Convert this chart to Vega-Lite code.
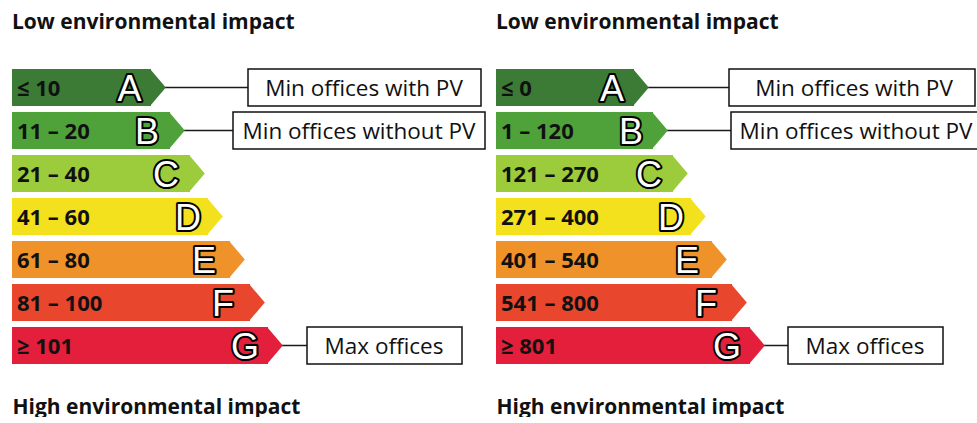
{
  "$schema": "https://vega.github.io/schema/vega-lite/v6.json",
  "background": "white",
  "padding": {"left": 12, "top": 12, "right": 0, "bottom": 0},
  "config": {"view": {"stroke": null}, "font": "Open Sans", "concat": {"spacing": 10}},
  "datasets": {
    "labels": [
      {"panel": "left", "rating": "A", "range": "≤ 10", "len": 139, "letter": 117.5, "callout": "Min offices with PV", "boxStart": 236, "boxEnd": 469, "boxMid": 352},
      {"panel": "left", "rating": "B", "range": "11 – 20", "len": 158, "letter": 135, "callout": "Min offices without PV", "boxStart": 221, "boxEnd": 473, "boxMid": 347},
      {"panel": "left", "rating": "C", "range": "21 – 40", "len": 178, "letter": 154, "callout": null, "boxStart": null, "boxEnd": null, "boxMid": null},
      {"panel": "left", "rating": "D", "range": "41 – 60", "len": 196, "letter": 176, "callout": null, "boxStart": null, "boxEnd": null, "boxMid": null},
      {"panel": "left", "rating": "E", "range": "61 – 80", "len": 218, "letter": 192, "callout": null, "boxStart": null, "boxEnd": null, "boxMid": null},
      {"panel": "left", "rating": "F", "range": "81 – 100", "len": 238, "letter": 211, "callout": null, "boxStart": null, "boxEnd": null, "boxMid": null},
      {"panel": "left", "rating": "G", "range": "≥ 101", "len": 256, "letter": 233, "callout": "Max offices", "boxStart": 295, "boxEnd": 450, "boxMid": 372},
      {"panel": "right", "rating": "A", "range": "≤ 0", "len": 138, "letter": 116, "callout": "Min offices with PV", "boxStart": 233, "boxEnd": 479, "boxMid": 358},
      {"panel": "right", "rating": "B", "range": "1 – 120", "len": 157, "letter": 135, "callout": "Min offices without PV", "boxStart": 235, "boxEnd": 485, "boxMid": 360},
      {"panel": "right", "rating": "C", "range": "121 – 270", "len": 177, "letter": 153, "callout": null, "boxStart": null, "boxEnd": null, "boxMid": null},
      {"panel": "right", "rating": "D", "range": "271 – 400", "len": 195, "letter": 175, "callout": null, "boxStart": null, "boxEnd": null, "boxMid": null},
      {"panel": "right", "rating": "E", "range": "401 – 540", "len": 216, "letter": 191, "callout": null, "boxStart": null, "boxEnd": null, "boxMid": null},
      {"panel": "right", "rating": "F", "range": "541 – 800", "len": 236, "letter": 210, "callout": null, "boxStart": null, "boxEnd": null, "boxMid": null},
      {"panel": "right", "rating": "G", "range": "≥ 801", "len": 254, "letter": 231, "callout": "Max offices", "boxStart": 292, "boxEnd": 447, "boxMid": 369}
    ]
  },
  "hconcat": [
    {
      "width": 474, "height": 301,
      "data": {"name": "labels"},
      "transform": [{"filter": "datum.panel === 'left'"}],
      "title": {"text": "Low environmental impact", "anchor": "start", "fontSize": 21, "fontWeight": "bold", "font": "Open Sans", "color": "#111111", "baseline": "alphabetic", "offset": 16},
      "encoding": {"y": {"field": "rating", "type": "nominal", "scale": {"domain": ["A","B","C","D","E","F","G"], "paddingInner": 0.14, "paddingOuter": 0.07}, "axis": null}},
      "layer": [
        {"transform": [{"filter": "datum.callout != null"}],
         "mark": {"type": "rule", "strokeWidth": 1.5, "color": "#1a1a1a"},
         "encoding": {"x": {"field": "len", "type": "quantitative", "title": "High environmental impact", "scale": {"domain": [0, 474], "nice": false, "zero": true},
            "axis": {"grid": false, "domain": false, "ticks": false, "labels": false, "titleAnchor": "start", "titleAlign": "left", "titleFont": "Open Sans", "titleFontSize": 21, "titleFontWeight": "bold", "titleColor": "#111111", "titleBaseline": "alphabetic", "titlePadding": 46}},
           "x2": {"field": "boxStart"}}},
        {"mark": {"type": "bar", "cornerRadius": 0},
         "encoding": {"x": {"field": "len", "type": "quantitative", "title": "High environmental impact"},
           "color": {"field": "rating", "type": "nominal", "scale": {"domain": ["A","B","C","D","E","F","G"], "range": ["#3b7b36","#4fa23a","#9ccb3b","#f2e11c","#f0922a","#e9462e","#e41f3b"]}, "legend": null}}},
        {"mark": {"type": "point", "shape": "M-0.05,-1L0.8,0L-0.05,1Z", "size": 1369, "filled": true, "opacity": 1, "strokeWidth": 0},
         "encoding": {"x": {"field": "len", "type": "quantitative", "title": "High environmental impact"},
           "color": {"field": "rating", "type": "nominal", "legend": null}}},
        {"mark": {"type": "text", "align": "left", "baseline": "middle", "dx": 5, "dy": 1, "fontSize": 22, "fontWeight": "bold", "font": "Open Sans", "color": "#111111"},
         "encoding": {"x": {"datum": 0, "type": "quantitative", "title": "High environmental impact"}, "text": {"field": "range"}}},
        {"mark": {"type": "text", "align": "center", "baseline": "middle", "dy": 2, "fontSize": 36, "font": "Liberation Sans", "fill": "black", "stroke": "black", "strokeWidth": 4, "strokeJoin": "round"},
         "encoding": {"x": {"field": "letter", "type": "quantitative", "title": "High environmental impact"}, "text": {"field": "rating"}}},
        {"mark": {"type": "text", "align": "center", "baseline": "middle", "dy": 2, "fontSize": 36, "font": "Liberation Sans", "fill": "white"},
         "encoding": {"x": {"field": "letter", "type": "quantitative", "title": "High environmental impact"}, "text": {"field": "rating"}}},
        {"transform": [{"filter": "datum.callout != null"}],
         "mark": {"type": "rect", "fill": "white", "stroke": "#111111", "strokeWidth": 1.5},
         "encoding": {"x": {"field": "boxStart", "type": "quantitative", "title": "High environmental impact"}, "x2": {"field": "boxEnd"}}},
        {"transform": [{"filter": "datum.callout != null"}],
         "mark": {"type": "text", "align": "center", "baseline": "middle", "dy": 1, "fontSize": 22.5, "font": "Open Sans", "color": "#111111"},
         "encoding": {"x": {"field": "boxMid", "type": "quantitative", "title": "High environmental impact"}, "text": {"field": "callout"}}}
      ]
    },
    {
      "width": 474, "height": 301,
      "data": {"name": "labels"},
      "transform": [{"filter": "datum.panel === 'right'"}],
      "title": {"text": "Low environmental impact", "anchor": "start", "fontSize": 21, "fontWeight": "bold", "font": "Open Sans", "color": "#111111", "baseline": "alphabetic", "offset": 16},
      "encoding": {"y": {"field": "rating", "type": "nominal", "scale": {"domain": ["A","B","C","D","E","F","G"], "paddingInner": 0.14, "paddingOuter": 0.07}, "axis": null}},
      "layer": [
        {"transform": [{"filter": "datum.callout != null"}],
         "mark": {"type": "rule", "strokeWidth": 1.5, "color": "#1a1a1a"},
         "encoding": {"x": {"field": "len", "type": "quantitative", "title": "High environmental impact", "scale": {"domain": [0, 474], "nice": false, "zero": true},
            "axis": {"grid": false, "domain": false, "ticks": false, "labels": false, "titleAnchor": "start", "titleAlign": "left", "titleFont": "Open Sans", "titleFontSize": 21, "titleFontWeight": "bold", "titleColor": "#111111", "titleBaseline": "alphabetic", "titlePadding": 46}},
           "x2": {"field": "boxStart"}}},
        {"mark": {"type": "bar", "cornerRadius": 0},
         "encoding": {"x": {"field": "len", "type": "quantitative", "title": "High environmental impact"},
           "color": {"field": "rating", "type": "nominal", "scale": {"domain": ["A","B","C","D","E","F","G"], "range": ["#3b7b36","#4fa23a","#9ccb3b","#f2e11c","#f0922a","#e9462e","#e41f3b"]}, "legend": null}}},
        {"mark": {"type": "point", "shape": "M-0.05,-1L0.8,0L-0.05,1Z", "size": 1369, "filled": true, "opacity": 1, "strokeWidth": 0},
         "encoding": {"x": {"field": "len", "type": "quantitative", "title": "High environmental impact"},
           "color": {"field": "rating", "type": "nominal", "legend": null}}},
        {"mark": {"type": "text", "align": "left", "baseline": "middle", "dx": 5, "dy": 1, "fontSize": 22, "fontWeight": "bold", "font": "Open Sans", "color": "#111111"},
         "encoding": {"x": {"datum": 0, "type": "quantitative", "title": "High environmental impact"}, "text": {"field": "range"}}},
        {"mark": {"type": "text", "align": "center", "baseline": "middle", "dy": 2, "fontSize": 36, "font": "Liberation Sans", "fill": "black", "stroke": "black", "strokeWidth": 4, "strokeJoin": "round"},
         "encoding": {"x": {"field": "letter", "type": "quantitative", "title": "High environmental impact"}, "text": {"field": "rating"}}},
        {"mark": {"type": "text", "align": "center", "baseline": "middle", "dy": 2, "fontSize": 36, "font": "Liberation Sans", "fill": "white"},
         "encoding": {"x": {"field": "letter", "type": "quantitative", "title": "High environmental impact"}, "text": {"field": "rating"}}},
        {"transform": [{"filter": "datum.callout != null"}],
         "mark": {"type": "rect", "fill": "white", "stroke": "#111111", "strokeWidth": 1.5},
         "encoding": {"x": {"field": "boxStart", "type": "quantitative", "title": "High environmental impact"}, "x2": {"field": "boxEnd"}}},
        {"transform": [{"filter": "datum.callout != null"}],
         "mark": {"type": "text", "align": "center", "baseline": "middle", "dy": 1, "fontSize": 22.5, "font": "Open Sans", "color": "#111111"},
         "encoding": {"x": {"field": "boxMid", "type": "quantitative", "title": "High environmental impact"}, "text": {"field": "callout"}}}
      ]
    }
  ]
}
